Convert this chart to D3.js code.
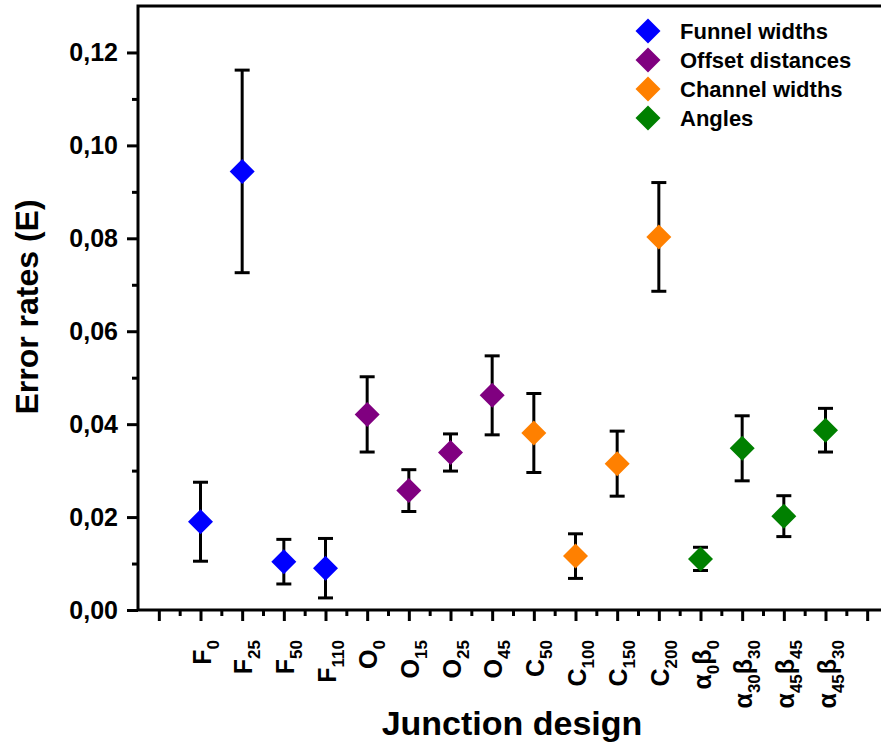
<!DOCTYPE html>
<html>
<head>
<meta charset="utf-8">
<title>Error rates by junction design</title>
<style>
  body { margin: 0; background: #fff; }
  text { font-family: Arial, "Liberation Sans", sans-serif; font-weight: bold; fill: #000; }
</style>
</head>
<body>
<div id="chart"></div>
<script src="https://cdn.jsdelivr.net/npm/d3@7"></script>
<script>
// ------ data ------
var categories = ["F0", "F25", "F50", "F110", "O0", "O15", "O25", "O45",
                  "C50", "C100", "C150", "C200", "a0b0", "a30b30", "a45b45", "a45b30"];
// label pieces: [text, isSubscript]
var tickLabels = [
  [["F",0],["0",1]], [["F",0],["25",1]], [["F",0],["50",1]], [["F",0],["110",1]],
  [["O",0],["0",1]], [["O",0],["15",1]], [["O",0],["25",1]], [["O",0],["45",1]],
  [["C",0],["50",1]], [["C",0],["100",1]], [["C",0],["150",1]], [["C",0],["200",1]],
  [["\u03b1",0],["0",1],["\u03b2",0],["0",1]],
  [["\u03b1",0],["30",1],["\u03b2",0],["30",1]],
  [["\u03b1",0],["45",1],["\u03b2",0],["45",1]],
  [["\u03b1",0],["45",1],["\u03b2",0],["30",1]]
];
var series = ["Funnel widths", "Offset distances", "Channel widths", "Angles"];
var seriesColor = ["#0000ff", "#800080", "#ff8000", "#008000"];
var seriesOf = [0,0,0,0, 1,1,1,1, 2,2,2,2, 3,3,3,3];
var means  = [0.0190, 0.0944, 0.0104, 0.0090, 0.0421, 0.0257, 0.0339, 0.0462,
              0.0381, 0.0116, 0.0315, 0.0803, 0.0110, 0.0348, 0.0202, 0.0387];
var errors = [0.0085, 0.0218, 0.0048, 0.0064, 0.0081, 0.0045, 0.0040, 0.0085,
              0.0085, 0.0048, 0.0070, 0.0117, 0.0025, 0.0070, 0.0044, 0.0047];
var yMajor = [0, 0.02, 0.04, 0.06, 0.08, 0.10, 0.12];
var yMinor = [0.01, 0.03, 0.05, 0.07, 0.09, 0.11];

var width = 881, height = 745;
var mLeft = 138, mTop = 6, mBottom = 610, mRight = 888;

var svg = d3.select("#chart").append("svg")
    .attr("width", width).attr("height", height);

var x = d3.scaleLinear().domain([-0.5, 17.5]).range([mLeft, mRight]);
var y = d3.scaleLinear().domain([0, 0.13]).range([mBottom, mTop]);

// frame
svg.append("rect")
    .attr("x", mLeft).attr("y", mTop)
    .attr("width", mRight - mLeft).attr("height", mBottom - mTop)
    .attr("fill", "none").attr("stroke", "#000").attr("stroke-width", 3);

// y axis
var yAxis = svg.append("g").attr("transform", "translate(" + mLeft + ",0)")
    .call(d3.axisLeft(y).tickValues(yMajor).tickSize(11).tickPadding(9)
      .tickFormat(function(d){ return d3.format(".2f")(d).replace(".", ","); }));
yAxis.select(".domain").remove();
yAxis.selectAll(".tick line").attr("stroke-width", 3);
yAxis.selectAll(".tick text").style("font-size", "25px");

var yMin = svg.append("g").attr("transform", "translate(" + mLeft + ",0)")
    .call(d3.axisLeft(y).tickValues(yMinor).tickSize(6).tickFormat(""));
yMin.select(".domain").remove();
yMin.selectAll(".tick line").attr("stroke-width", 3);

// x axis ticks (major at integer positions, minor between)
var xMajor = d3.range(0, 18);
var xMinor = d3.range(0, 18).map(function(d){ return d + 0.5; });
var xAx = svg.append("g").attr("transform", "translate(0," + mBottom + ")")
    .call(d3.axisBottom(x).tickValues(xMajor).tickSize(11).tickFormat(""));
xAx.select(".domain").remove();
xAx.selectAll(".tick line").attr("stroke-width", 3);
var xMin = svg.append("g").attr("transform", "translate(0," + mBottom + ")")
    .call(d3.axisBottom(x).tickValues(xMinor).tickSize(6).tickFormat(""));
xMin.select(".domain").remove();
xMin.selectAll(".tick line").attr("stroke-width", 3);

// rotated category labels with subscripts
var lab = svg.append("g").selectAll("text")
    .data(tickLabels)
    .enter().append("text")
    .attr("transform", function(d, i){ return "translate(" + (x(i + 1) + 10) + ",640) rotate(-90)"; })
    .attr("text-anchor", "end");
lab.each(function(parts){
  var t = d3.select(this), shifted = false;
  parts.forEach(function(p){
    var ts = t.append("tspan").text(p[0]);
    if (p[1]) {
      ts.style("font-size", "17px").attr("dy", shifted ? 0 : 8);
      shifted = true;
    } else {
      ts.style("font-size", "25px").attr("dy", shifted ? -8 : 0);
      shifted = false;
    }
  });
});

// error bars
var pts = svg.append("g").selectAll("g")
    .data(categories)
    .enter().append("g");
pts.append("line")
    .attr("x1", function(d, i){ return x(i + 1); })
    .attr("x2", function(d, i){ return x(i + 1); })
    .attr("y1", function(d, i){ return y(means[i] + errors[i]); })
    .attr("y2", function(d, i){ return y(means[i] - errors[i]); })
    .attr("stroke", "#000").attr("stroke-width", 3);
[1, -1].forEach(function(s){
  pts.append("line")
      .attr("x1", function(d, i){ return x(i + 1) - 7.5; })
      .attr("x2", function(d, i){ return x(i + 1) + 7.5; })
      .attr("y1", function(d, i){ return y(means[i] + s * errors[i]); })
      .attr("y2", function(d, i){ return y(means[i] + s * errors[i]); })
      .attr("stroke", "#000").attr("stroke-width", 3);
});

function diamond(cx, cy, r){
  return "M" + cx + "," + (cy - r) + "L" + (cx + r) + "," + cy +
         "L" + cx + "," + (cy + r) + "L" + (cx - r) + "," + cy + "Z";
}
pts.append("path")
    .attr("d", function(d, i){ return diamond(x(i + 1), y(means[i]), 12.5); })
    .attr("fill", function(d, i){ return seriesColor[seriesOf[i]]; });

// legend
var leg = svg.append("g").selectAll("g")
    .data(series)
    .enter().append("g")
    .attr("transform", function(d, i){ return "translate(648," + (31 + i * 29) + ")"; });
leg.append("path")
    .attr("d", diamond(0, 0, 12.5))
    .attr("fill", function(d, i){ return seriesColor[i]; });
leg.append("text")
    .attr("x", 32).attr("dy", "0.36em")
    .style("font-size", "22px")
    .text(function(d){ return d; });

// axis titles
svg.append("text")
    .attr("transform", "translate(38,307) rotate(-90)")
    .attr("text-anchor", "middle")
    .style("font-size", "32px")
    .text("Error rates (E)");
svg.append("text")
    .attr("x", 512).attr("y", 735)
    .attr("text-anchor", "middle")
    .style("font-size", "34px")
    .text("Junction design");
</script>
</body>
</html>
